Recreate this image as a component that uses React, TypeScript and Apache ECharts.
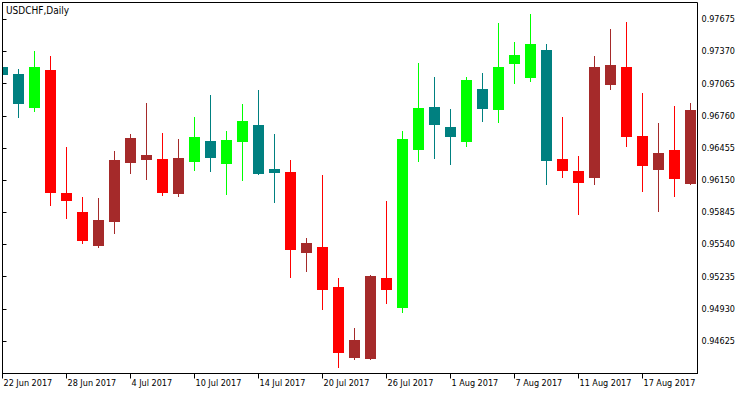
import React, { useEffect, useRef } from "react";
import * as echarts from "echarts";

const title = "USDCHF,Daily";

const dates = [
  "22 Jun 2017", "23 Jun 2017", "26 Jun 2017", "27 Jun 2017", "28 Jun 2017", "29 Jun 2017", "30 Jun 2017",
  "3 Jul 2017", "4 Jul 2017", "5 Jul 2017", "6 Jul 2017", "7 Jul 2017", "10 Jul 2017", "11 Jul 2017",
  "12 Jul 2017", "13 Jul 2017", "14 Jul 2017", "17 Jul 2017", "18 Jul 2017", "19 Jul 2017", "20 Jul 2017",
  "21 Jul 2017", "24 Jul 2017", "25 Jul 2017", "26 Jul 2017", "27 Jul 2017", "28 Jul 2017", "31 Jul 2017",
  "1 Aug 2017", "2 Aug 2017", "3 Aug 2017", "4 Aug 2017", "7 Aug 2017", "8 Aug 2017", "9 Aug 2017",
  "10 Aug 2017", "11 Aug 2017", "14 Aug 2017", "15 Aug 2017", "16 Aug 2017", "17 Aug 2017", "18 Aug 2017",
  "21 Aug 2017", "22 Aug 2017",
];

const opens = [
  0.97226, 0.97156, 0.96837, 0.97197, 0.96031, 0.95851, 0.95526, 0.95756, 0.96315, 0.96344, 0.96351,
  0.96022, 0.96325, 0.96521, 0.96306, 0.96515, 0.96673, 0.96256, 0.96227, 0.95459, 0.95516, 0.9514,
  0.94467, 0.94457, 0.95222, 0.94941, 0.96439, 0.96844, 0.96657, 0.96515, 0.97017, 0.96818, 0.97254,
  0.97121, 0.97387, 0.96351, 0.96237, 0.96173, 0.97052, 0.97226, 0.96571, 0.96249, 0.96436, 0.96116,
];
const closes = [
  0.97147, 0.96875, 0.97226, 0.96031, 0.95955, 0.95576, 0.95772, 0.96341, 0.96553, 0.96391, 0.96031,
  0.96363, 0.96562, 0.96363, 0.96534, 0.96714, 0.96208, 0.96221, 0.95491, 0.95554, 0.95111, 0.94514,
  0.94634, 0.95241, 0.95111, 0.9654, 0.96834, 0.96676, 0.96562, 0.971, 0.96827, 0.97226, 0.97339,
  0.97444, 0.96334, 0.9624, 0.96126, 0.97226, 0.97245, 0.96562, 0.96287, 0.96407, 0.96164, 0.96818,
];
const highs = [
  0.97245, 0.97204, 0.97377, 0.9733, 0.96467, 0.95993, 0.95981, 0.96426, 0.96588, 0.96881, 0.96597,
  0.96543, 0.96752, 0.96957, 0.96619, 0.96872, 0.97005, 0.96588, 0.96341, 0.95602, 0.96199, 0.95222,
  0.94748, 0.95251, 0.95952, 0.96616, 0.97264, 0.97128, 0.96827, 0.97128, 0.97169, 0.97643, 0.9746,
  0.97725, 0.97444, 0.96752, 0.96382, 0.9733, 0.97583, 0.97649, 0.96976, 0.96692, 0.96856, 0.96881,
];
const lows = [
  0.9712, 0.96742, 0.96799, 0.95908, 0.95785, 0.95548, 0.9551, 0.95642, 0.96211, 0.96154, 0.96003,
  0.95993, 0.9624, 0.9623, 0.96012, 0.96145, 0.96202, 0.95936, 0.95225, 0.95282, 0.94922, 0.94372,
  0.94448, 0.94448, 0.94979, 0.94893, 0.96325, 0.96353, 0.96297, 0.96461, 0.96704, 0.96695, 0.97064,
  0.97083, 0.96107, 0.96173, 0.95822, 0.96107, 0.97008, 0.96467, 0.96038, 0.95851, 0.95993, 0.96107,
];
// trend state per bar: 1 = up, -1 = down
const trend = [
  1, 1, 1, -1, -1, -1, -1, -1, -1, -1, -1, -1, 1, 1, 1, 1, 1, 1, -1, -1, -1, -1, -1, -1, -1,
  1, 1, 1, 1, 1, 1, 1, 1, 1, 1, -1, -1, -1, -1, -1, -1, -1, -1, -1,
];

const priceTicks = [0.94625, 0.9493, 0.95235, 0.9554, 0.95845, 0.9615, 0.96455, 0.9676, 0.97065, 0.9737, 0.97675];
const dateTickIndex = [0, 4, 8, 12, 16, 20, 24, 28, 32, 36, 40];

const PRICE_MIN = 0.943168;
const PRICE_MAX = 0.978343;
const INDEX_MIN = 0;
const INDEX_MAX = 43.4375;

const FONT = '"DejaVu Sans Condensed", "Liberation Sans", Arial, sans-serif';
const GREEN = "#00FF00";
const TEAL = "#008080";
const RED = "#FF0000";
const BROWN = "#A52A2A";

export default function App() {
  const ref = useRef<HTMLDivElement>(null);

  useEffect(() => {
    if (!ref.current) return;
    const chart = echarts.init(ref.current, undefined, { renderer: "svg" });
    const data = dates.map((_, i) => [i, opens[i], closes[i], lows[i], highs[i], trend[i]]);

    chart.setOption({
      animation: false,
      backgroundColor: "#ffffff",
      title: {
        text: title,
        left: 6,
        top: 5,
        padding: 0,
        textStyle: { fontSize: 10, fontWeight: "normal", color: "#000", fontFamily: FONT },
      },
      grid: {
        left: 2.5,
        top: 2.5,
        right: 52.5,
        bottom: 20.5,
        show: true,
        borderColor: "#000",
        borderWidth: 1,
        backgroundColor: "transparent",
        containLabel: false,
      },
      xAxis: {
        type: "value",
        min: INDEX_MIN,
        max: INDEX_MAX,
        splitLine: { show: false },
        axisLine: { show: true, lineStyle: { color: "#000", width: 1 } },
        axisTick: { show: true, length: 5, customValues: dateTickIndex, lineStyle: { color: "#000" } },
        axisLabel: {
          customValues: dateTickIndex,
          formatter: (v: number) => dates[Math.round(v)] ?? "",
          align: "left",
          color: "#000",
          fontSize: 9,
          fontFamily: FONT,
          margin: 5,
          padding: [0, 0, 0, 1],
        },
      },
      yAxis: {
        type: "value",
        position: "right",
        min: PRICE_MIN,
        max: PRICE_MAX,
        splitLine: { show: false },
        axisLine: { show: true, lineStyle: { color: "#000", width: 1 } },
        axisTick: { show: true, length: 4, customValues: priceTicks, lineStyle: { color: "#000" } },
        axisLabel: {
          customValues: priceTicks,
          formatter: (v: number) => v.toFixed(5),
          color: "#000",
          fontSize: 9,
          fontFamily: FONT,
          margin: 4,
        },
      },
      series: [
        {
          type: "custom",
          clip: true,
          data,
          encode: { x: 0, y: [1, 2, 3, 4] },
          renderItem: (params: any, api: any) => {
            const i = api.value(0);
            const o = api.value(1);
            const c = api.value(2);
            const l = api.value(3);
            const h = api.value(4);
            const t = api.value(5);
            const pO = api.coord([i, o]);
            const pC = api.coord([i, c]);
            const pL = api.coord([i, l]);
            const pH = api.coord([i, h]);
            const cs = params.coordSys;
            const cx = pO[0];
            const bull = c >= o;
            const color = bull ? (t > 0 ? GREEN : BROWN) : t > 0 ? TEAL : RED;
            const top = Math.round(Math.min(pO[1], pC[1]));
            const bot = Math.round(Math.max(pO[1], pC[1]));
            const x0 = Math.max(cx - 5.5, cs.x + 0.5);
            const x1 = Math.min(cx + 5.5, cs.x + cs.width - 0.5);
            const children: any[] = [];
            if (cx > cs.x + 0.5) {
              children.push({
                type: "line",
                shape: { x1: cx, y1: Math.round(pH[1]), x2: cx, y2: Math.round(pL[1]) },
                style: { stroke: color, lineWidth: 1 },
              });
            }
            children.push({
              type: "rect",
              shape: { x: x0, y: top, width: Math.max(0, x1 - x0), height: Math.max(1, bot - top) },
              style: { fill: color },
            });
            return { type: "group", children };
          },
        },
      ],
    });

    return () => chart.dispose();
  }, []);

  return (
    <div
      ref={ref}
      style={{ position: "fixed", left: 0, top: 0, width: 750, height: 394, background: "#fff" }}
    />
  );
}
